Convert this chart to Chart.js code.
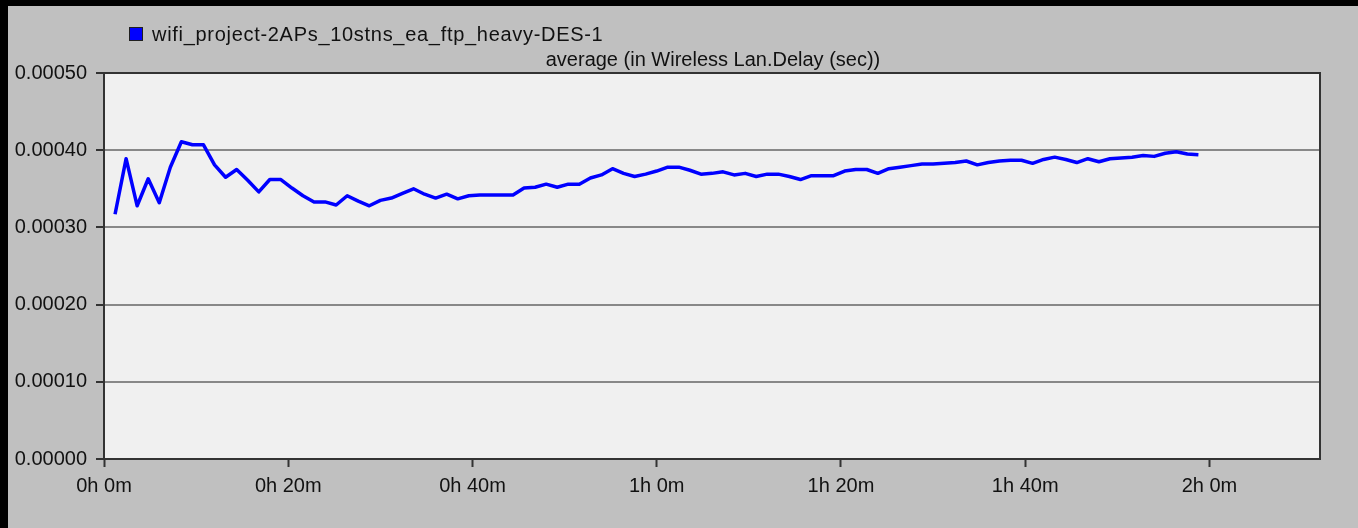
<!DOCTYPE html>
<html>
<head>
<meta charset="utf-8">
<title>Wireless LAN delay</title>
<script src="https://cdn.jsdelivr.net/npm/chart.js@4.4.1/dist/chart.umd.min.js"></script>
<style>
    html, body {
        margin: 0;
        padding: 0;
        background: #000;
        width: 1358px;
        height: 528px;
        overflow: hidden;
    }
    #wrap {
        position: absolute;
        left: 8px;
        top: 6px;
        width: 1350px;
        height: 522px;
        background: #c0c0c0;
    }
</style>
</head>
<body>
<div id="wrap">
    <canvas id="delayChart" width="1350" height="522"></canvas>
</div>
<script>
// Series name and statistic
const seriesName = "wifi_project-2APs_10stns_ea_ftp_heavy-DES-1";
const statName = "average (in Wireless Lan.Delay (sec))";

// Sample times (minutes of simulated time)
const sampleMinutes = [
    1.2, 2.4, 3.6, 4.8, 6.0, 7.2, 8.4, 9.6, 10.8, 12.0,
    13.2, 14.4, 15.6, 16.8, 18.0, 19.2, 20.4, 21.6, 22.8, 24.0,
    25.2, 26.4, 27.6, 28.8, 30.0, 31.2, 32.4, 33.6, 34.8, 36.0,
    37.2, 38.4, 39.6, 40.8, 42.0, 43.2, 44.4, 45.6, 46.8, 48.0,
    49.2, 50.4, 51.6, 52.8, 54.0, 55.2, 56.4, 57.6, 58.8, 60.0,
    61.2, 62.4, 63.6, 64.8, 66.0, 67.2, 68.4, 69.6, 70.8, 72.0,
    73.2, 74.4, 75.6, 76.8, 78.0, 79.2, 80.4, 81.6, 82.8, 84.0,
    85.2, 86.4, 87.6, 88.8, 90.0, 91.2, 92.4, 93.6, 94.8, 96.0,
    97.2, 98.4, 99.6, 100.8, 102.0, 103.2, 104.4, 105.6, 106.8, 108.0,
    109.2, 110.4, 111.6, 112.8, 114.0, 115.2, 116.4, 117.6, 118.8
];

// Average delay (sec)
const delaySec = [
    0.000317, 0.000389, 0.000328, 0.000363, 0.000332, 0.000378, 0.000411, 0.000407, 0.000407, 0.000381,
    0.000365, 0.000375, 0.000361, 0.000346, 0.000362, 0.000362, 0.000351, 0.000341, 0.000333, 0.000333,
    0.000329, 0.000341, 0.000334, 0.000328, 0.000335, 0.000338, 0.000344, 0.000350, 0.000343, 0.000338,
    0.000343, 0.000337, 0.000341, 0.000342, 0.000342, 0.000342, 0.000342, 0.000351, 0.000352, 0.000356,
    0.000352, 0.000356, 0.000356, 0.000364, 0.000368, 0.000376, 0.000370, 0.000366, 0.000369, 0.000373,
    0.000378, 0.000378, 0.000374, 0.000369, 0.000370, 0.000372, 0.000368, 0.000370, 0.000366, 0.000369,
    0.000369, 0.000366, 0.000362, 0.000367, 0.000367, 0.000367, 0.000373, 0.000375, 0.000375, 0.000370,
    0.000376, 0.000378, 0.000380, 0.000382, 0.000382, 0.000383, 0.000384, 0.000386, 0.000381, 0.000384,
    0.000386, 0.000387, 0.000387, 0.000383, 0.000388, 0.000391, 0.000388, 0.000384, 0.000389, 0.000385,
    0.000389, 0.000390, 0.000391, 0.000393, 0.000392, 0.000396, 0.000398, 0.000395, 0.000394
];

// Axis ticks
const xTickStep = 20;     // minutes
const xMax = 132;         // minutes
const yTickStep = 0.0001;
const yMax = 0.0005;

const FONT = "Liberation Sans";

function formatMinutes(v) {
    const h = Math.floor(v / 60);
    const m = Math.round(v - h * 60);
    return `${h}h ${m}m`;
}

// plot background, frame, legend and stat label
const framePlugin = {
    id: "frame",
    beforeDraw(chart) {
        const { ctx, chartArea: a } = chart;
        ctx.save();
        ctx.fillStyle = "#f0f0f0";
        ctx.fillRect(a.left, a.top, a.right - a.left, a.bottom - a.top);
        ctx.restore();
    },
    afterDraw(chart) {
        const { ctx, chartArea: a } = chart;
        ctx.save();
        ctx.strokeStyle = "#333333";
        ctx.lineWidth = 2;
        ctx.strokeRect(a.left, a.top, a.right - a.left, a.bottom - a.top);

        // legend entry
        ctx.fillStyle = "#0000ff";
        ctx.fillRect(121, 21, 14, 14);
        ctx.strokeStyle = "#202020";
        ctx.lineWidth = 1;
        ctx.strokeRect(121.5, 21.5, 13, 13);

        ctx.fillStyle = "#111111";
        ctx.font = `20px "${FONT}"`;
        ctx.textBaseline = "middle";
        ctx.textAlign = "left";
        ctx.letterSpacing = "0.7px";
        ctx.fillText(seriesName, 144, 29);

        ctx.letterSpacing = "0px";
        ctx.textAlign = "center";
        ctx.fillText(statName, (a.left + a.right) / 2 + 1, 54);
        ctx.restore();
    }
};

const ctx = document.getElementById("delayChart").getContext("2d");

new Chart(ctx, {
    type: "line",
    data: {
        datasets: [
            {
                label: seriesName,
                data: sampleMinutes.map((t, i) => ({ x: t, y: delaySec[i] })),
                borderColor: "#0000ff",
                borderWidth: 3.5,
                borderJoinStyle: "round",
                pointRadius: 0,
                tension: 0,
                fill: false
            }
        ]
    },
    options: {
        responsive: false,
        animation: false,
        devicePixelRatio: 1,
        layout: {
            padding: { top: 67, right: 38, left: 0, bottom: 0 }
        },
        plugins: {
            legend: { display: false },
            tooltip: { enabled: false }
        },
        scales: {
            x: {
                type: "linear",
                min: 0,
                max: xMax,
                afterFit: (scale) => { scale.height = 69; },
                grid: {
                    drawOnChartArea: false,
                    drawTicks: true,
                    tickLength: 8,
                    tickColor: "#333333",
                    tickWidth: 2
                },
                border: { display: false },
                ticks: {
                    stepSize: xTickStep,
                    includeBounds: false,
                    autoSkip: false,
                    maxRotation: 0,
                    padding: 7,
                    color: "#111111",
                    font: { family: FONT, size: 20 },
                    callback: (v) => formatMinutes(v)
                }
            },
            y: {
                min: 0,
                max: yMax,
                afterFit: (scale) => { scale.width = 96; },
                grid: {
                    color: "#888888",
                    lineWidth: 2,
                    drawTicks: true,
                    tickLength: 8,
                    tickColor: "#333333",
                    tickWidth: 2
                },
                border: { display: false },
                ticks: {
                    stepSize: yTickStep,
                    padding: 9,
                    color: "#111111",
                    font: { family: FONT, size: 20 },
                    callback: (v) => v.toFixed(5)
                }
            }
        }
    },
    plugins: [framePlugin]
});
</script>
</body>
</html>
